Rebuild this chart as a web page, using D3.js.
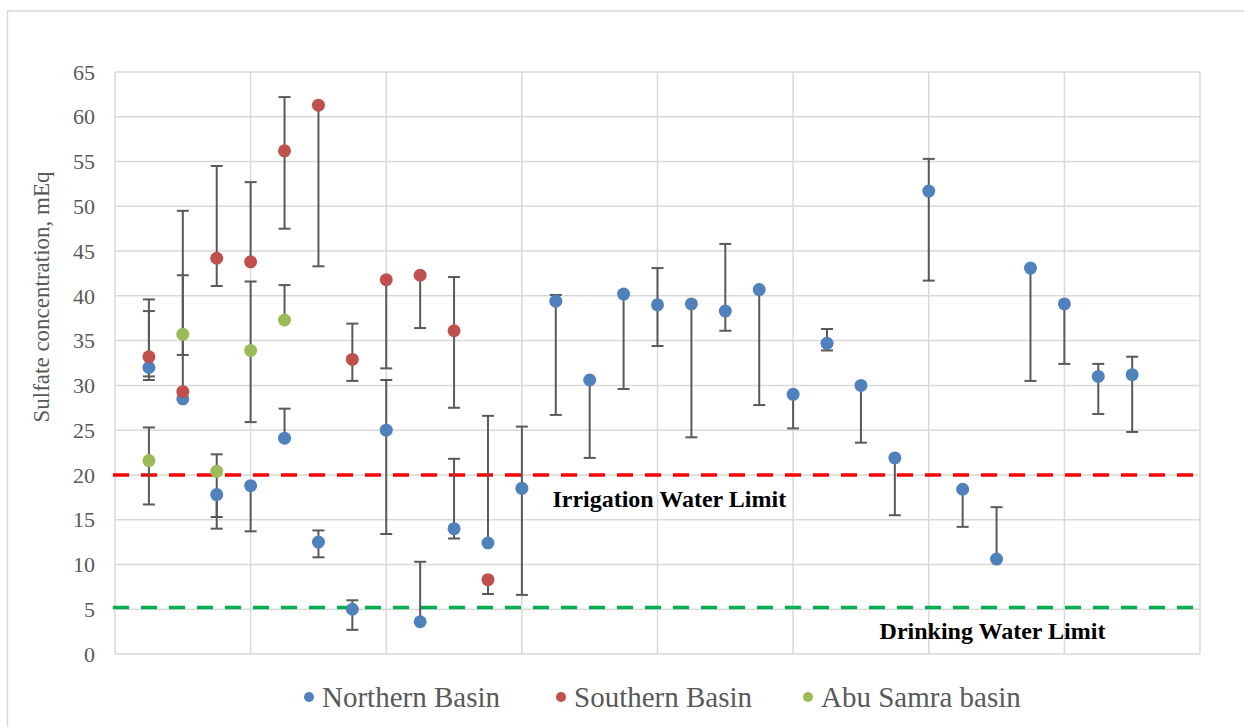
<!DOCTYPE html>
<html>
<head>
<meta charset="utf-8">
<script src="https://cdn.jsdelivr.net/npm/d3@7"></script>
<style>
  html, body { margin: 0; padding: 0; background: #fff; }
</style>
</head>
<body>
<div id="chart"></div>
<script>
// Data - sample index on x, value with low/high of the error bar
const northernX = d3.range(1, 31);
const northernVal = [32.0, 28.5, 17.8, 18.8, 24.1, 12.5, 5.0, 25.0, 3.6, 14.0, 12.4, 18.5, 39.4, 30.6, 40.2,
                     39.0, 39.1, 38.3, 40.7, 29.0, 34.7, 30.0, 21.9, 51.7, 18.4, 10.6, 43.1, 39.1, 31.0, 31.2];
const northernLow = [31.0, 28.5, 14.0, 13.7, 24.1, 10.8, 2.7, 13.4, 3.6, 12.9, 12.4, 6.6, 26.7, 21.9, 29.6,
                     34.4, 24.2, 36.1, 27.8, 25.2, 33.9, 23.6, 15.5, 41.7, 14.2, 10.6, 30.5, 32.4, 26.8, 24.8];
const northernHigh = [38.3, 28.5, 17.8, 18.8, 27.4, 13.8, 6.0, 30.6, 10.3, 21.8, 26.6, 25.4, 40.1, 30.6, 40.2,
                      43.1, 39.1, 45.8, 40.7, 29.0, 36.3, 30.0, 21.9, 55.3, 18.4, 16.4, 43.1, 39.1, 32.4, 33.2];

const southernX = d3.range(1, 12);
const southernVal = [33.2, 29.3, 44.2, 43.8, 56.2, 61.3, 32.9, 41.8, 42.3, 36.1, 8.3];
const southernLow = [30.6, 29.3, 41.1, 43.8, 47.5, 43.3, 30.5, 31.9, 36.4, 27.5, 6.7];
const southernHigh = [39.6, 49.5, 54.5, 52.7, 62.2, 61.3, 36.9, 41.8, 42.3, 42.1, 8.3];

const abuSamraX = d3.range(1, 6);
const abuSamraVal = [21.6, 35.7, 20.4, 33.9, 37.3];
const abuSamraLow = [16.7, 33.4, 15.3, 25.9, 37.3];
const abuSamraHigh = [25.3, 42.3, 22.3, 41.6, 41.2];

const yTicks = d3.range(0, 70, 5);
const xGridTicks = d3.range(0, 36, 4);

const limits = [
    { label: "Irrigation Water Limit", value: 20, color: "#FF0000", labelX: 12.9 },
    { label: "Drinking Water Limit", value: 5.2, color: "#00B050", labelX: 22.55 }
];

const series = [
    { name: "Northern Basin", color: "#4F81BD", x: northernX, v: northernVal, lo: northernLow, hi: northernHigh },
    { name: "Southern Basin", color: "#C0504D", x: southernX, v: southernVal, lo: southernLow, hi: southernHigh },
    { name: "Abu Samra basin", color: "#9BBB59", x: abuSamraX, v: abuSamraVal, lo: abuSamraLow, hi: abuSamraHigh }
];

const serifFont = "'Liberation Serif', 'Times New Roman', serif";

// Dimensions
const width = 1244;
const height = 727;
const plot = { left: 115, right: 1200, top: 72, bottom: 654 };

const svg = d3.select("#chart")
    .append("svg")
    .attr("width", width)
    .attr("height", height)
    .attr("font-family", serifFont);

// chart frame
svg.append("rect")
    .attr("x", 7.5).attr("y", 11)
    .attr("width", width).attr("height", height)
    .attr("fill", "none")
    .attr("stroke", "#D9D9D9")
    .attr("stroke-width", 1.5);

const x = d3.scaleLinear().domain([0, 32]).range([plot.left, plot.right]);
const y = d3.scaleLinear().domain([0, 65]).range([plot.bottom, plot.top]);

// gridlines
svg.append("g")
    .selectAll("line")
    .data(yTicks)
    .enter().append("line")
    .attr("x1", plot.left).attr("x2", plot.right)
    .attr("y1", d => y(d)).attr("y2", d => y(d))
    .attr("stroke", "#D9D9D9")
    .attr("stroke-width", 1.5);

svg.append("g")
    .selectAll("line")
    .data(xGridTicks)
    .enter().append("line")
    .attr("x1", d => x(d)).attr("x2", d => x(d))
    .attr("y1", plot.top).attr("y2", plot.bottom)
    .attr("stroke", "#D9D9D9")
    .attr("stroke-width", 1.5);

// y tick labels
svg.append("g")
    .selectAll("text")
    .data(yTicks)
    .enter().append("text")
    .attr("x", 95)
    .attr("y", d => y(d))
    .attr("dy", "0.35em")
    .attr("text-anchor", "end")
    .style("font-size", "22px")
    .style("fill", "#595959")
    .text(d => d);

// y axis title
svg.append("text")
    .attr("transform", "translate(49, 297) rotate(-90)")
    .attr("text-anchor", "middle")
    .style("font-size", "23px")
    .style("fill", "#595959")
    .text("Sulfate concentration, mEq");

// limit lines
limits.forEach(l => {
    svg.append("line")
        .attr("x1", plot.left - 2).attr("x2", plot.right)
        .attr("y1", y(l.value)).attr("y2", y(l.value))
        .attr("stroke", l.color)
        .attr("stroke-width", 3.5)
        .attr("stroke-dasharray", "16,12");
    svg.append("text")
        .attr("x", x(l.labelX))
        .attr("y", y(l.value) + 32)
        .style("font-size", "24px")
        .style("font-weight", "bold")
        .style("fill", "#000")
        .text(l.label);
});

// error bars
const capHalf = 6;
const barGroup = svg.append("g")
    .attr("stroke", "#595959")
    .attr("stroke-width", 2);

series.forEach(s => {
    s.x.forEach((xi, i) => {
        const cx = x(xi);
        if (s.hi[i] > s.v[i] || s.lo[i] < s.v[i]) {
            barGroup.append("line")
                .attr("x1", cx).attr("x2", cx)
                .attr("y1", y(s.lo[i])).attr("y2", y(s.hi[i]));
        }
        if (s.hi[i] > s.v[i]) {
            barGroup.append("line")
                .attr("x1", cx - capHalf).attr("x2", cx + capHalf)
                .attr("y1", y(s.hi[i])).attr("y2", y(s.hi[i]));
        }
        if (s.lo[i] < s.v[i]) {
            barGroup.append("line")
                .attr("x1", cx - capHalf).attr("x2", cx + capHalf)
                .attr("y1", y(s.lo[i])).attr("y2", y(s.lo[i]));
        }
    });
});

// markers
series.forEach(s => {
    svg.append("g")
        .selectAll("circle")
        .data(s.x.map((xi, i) => ({ x: xi, v: s.v[i] })))
        .enter().append("circle")
        .attr("cx", d => x(d.x))
        .attr("cy", d => y(d.v))
        .attr("r", 6.5)
        .attr("fill", s.color);
});

// legend
const legendPos = [309, 561, 808];
const legend = svg.append("g");
series.forEach((s, i) => {
    legend.append("circle")
        .attr("cx", legendPos[i])
        .attr("cy", 697)
        .attr("r", 5)
        .attr("fill", s.color);
    legend.append("text")
        .attr("x", legendPos[i] + 13)
        .attr("y", 697)
        .attr("dy", "0.35em")
        .style("font-size", "29px")
        .style("fill", "#595959")
        .text(s.name);
});
</script>
</body>
</html>
